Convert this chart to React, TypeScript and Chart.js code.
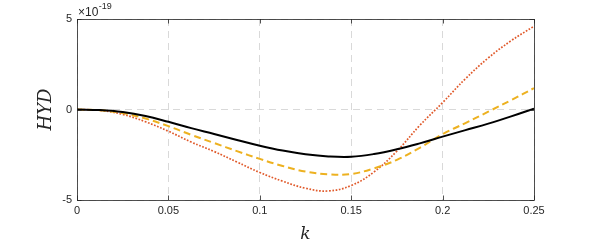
import React, { useEffect, useRef } from "react";
import { Chart, registerables } from "chart.js";

Chart.register(...registerables);

const kValues = [0, 0.0125, 0.025, 0.0375, 0.05, 0.0625, 0.075, 0.0875, 0.1, 0.1125, 0.125, 0.1375, 0.15, 0.1625, 0.175, 0.1875, 0.2, 0.2125, 0.225, 0.2375, 0.25];
const blackSeries = [0, -0.03, -0.14, -0.36, -0.68, -1.03, -1.35, -1.68, -2.0, -2.27, -2.47, -2.59, -2.61, -2.46, -2.2, -1.87, -1.5, -1.14, -0.78, -0.38, 0.05];
const yellowSeries = [0, -0.04, -0.2, -0.5, -0.92, -1.4, -1.85, -2.3, -2.73, -3.12, -3.43, -3.58, -3.56, -3.25, -2.78, -2.12, -1.36, -0.75, -0.12, 0.52, 1.18];
const redSeries = [0, -0.05, -0.27, -0.68, -1.2, -1.8, -2.32, -2.9, -3.48, -3.96, -4.35, -4.5, -4.2, -3.45, -2.3, -0.88, 0.38, 1.7, 2.85, 3.8, 4.6];
const xTicks = [0, 0.05, 0.1, 0.15, 0.2, 0.25];
const yTicks = [-5, 0, 5];

const toPoints = (ys: number[]) => ys.map((y, i) => ({ x: kValues[i], y }));

const boxPlugin = {
  id: "boxPlugin",
  afterDraw(chart: any) {
    const { ctx, chartArea, scales } = chart;
    const { left, right, top, bottom } = chartArea;
    ctx.save();
    ctx.strokeStyle = "#262626";
    ctx.lineWidth = 0.8;
    const tl = 4.5;
    ctx.beginPath();
    xTicks.forEach((t) => {
      const px = Math.round(scales.x.getPixelForValue(t)) + 0.5;
      ctx.moveTo(px, bottom);
      ctx.lineTo(px, bottom - tl);
      ctx.moveTo(px, top);
      ctx.lineTo(px, top + tl);
    });
    yTicks.forEach((t) => {
      const py = Math.round(scales.y.getPixelForValue(t)) + 0.5;
      ctx.moveTo(left, py);
      ctx.lineTo(left + tl, py);
      ctx.moveTo(right, py);
      ctx.lineTo(right - tl, py);
    });
    ctx.stroke();
    ctx.strokeRect(left + 0.5, top + 0.5, right - left, bottom - top);
    ctx.fillStyle = "#262626";
    ctx.textBaseline = "alphabetic";
    ctx.textAlign = "left";
    ctx.font = "12px 'Liberation Sans', Arial, sans-serif";
    ctx.fillText("\u00d710", left + 1, top - 3);
    const w = ctx.measureText("\u00d710").width;
    ctx.font = "9px 'Liberation Sans', Arial, sans-serif";
    ctx.fillText("-19", left + 1 + w + 0.5, top - 10);
    ctx.restore();
  },
};

export default function App() {
  const ref = useRef<HTMLCanvasElement | null>(null);
  useEffect(() => {
    document.body.style.margin = "0";
    const tickFont = { family: "'Liberation Sans', Arial, sans-serif", size: 11 };
    const chart = new Chart(ref.current as HTMLCanvasElement, {
      type: "line",
      data: {
        datasets: [
          {
            data: toPoints(blackSeries),
            borderColor: "#000000",
            borderWidth: 2,
            pointRadius: 0,
            tension: 0.4,
            fill: false,
          },
          {
            data: toPoints(yellowSeries),
            borderColor: "#EDB120",
            borderWidth: 2,
            borderDash: [7, 4],
            pointRadius: 0,
            tension: 0.4,
            fill: false,
          },
          {
            data: toPoints(redSeries),
            borderColor: "#E0592A",
            borderWidth: 1.7,
            borderDash: [1.7, 1.6],
            pointRadius: 0,
            tension: 0.4,
            fill: false,
          },
        ],
      },
      options: {
        animation: false,
        responsive: false,
        maintainAspectRatio: false,
        layout: { padding: { top: 19, right: 55, left: 36, bottom: 0 } },
        plugins: { legend: { display: false }, tooltip: { enabled: false } },
        scales: {
          x: {
            type: "linear",
            min: 0,
            max: 0.25,
            afterBuildTicks: (s: any) => {
              s.ticks = xTicks.map((v) => ({ value: v }));
            },
            afterFit: (s: any) => {
              s.height = 45;
            },
            ticks: {
              font: tickFont,
              color: "#262626",
              padding: 4,
              maxRotation: 0,
              callback: (v: any) => String(v),
            },
            grid: { color: "#d9d9d9", lineWidth: 1, drawTicks: false },
            border: { display: false, dash: [7, 5] },
            title: {
              display: true,
              text: "k",
              font: { family: "'DejaVu Serif', 'Liberation Serif', serif", size: 17, style: "italic" },
              color: "#262626",
              padding: { top: 0, bottom: 0 },
            },
          },
          y: {
            type: "linear",
            min: -5,
            max: 5,
            afterBuildTicks: (s: any) => {
              s.ticks = yTicks.map((v) => ({ value: v }));
            },
            afterFit: (s: any) => {
              s.width = 41;
            },
            ticks: {
              font: tickFont,
              color: "#262626",
              padding: 5,
              callback: (v: any) => String(v),
            },
            grid: { color: "#d9d9d9", lineWidth: 1, drawTicks: false },
            border: { display: false, dash: [7, 5] },
            title: {
              display: true,
              text: "HYD",
              font: { family: "'DejaVu Serif', 'Liberation Serif', serif", size: 18, style: "italic" },
              color: "#262626",
              padding: { top: 0, bottom: 0 },
            },
          },
        },
      },
      plugins: [boxPlugin],
    } as any);
    return () => chart.destroy();
  }, []);
  return (
    <div style={{ width: 589, height: 245 }}>
      <canvas ref={ref} width={589} height={245} style={{ display: "block", width: 589, height: 245 }} />
    </div>
  );
}
